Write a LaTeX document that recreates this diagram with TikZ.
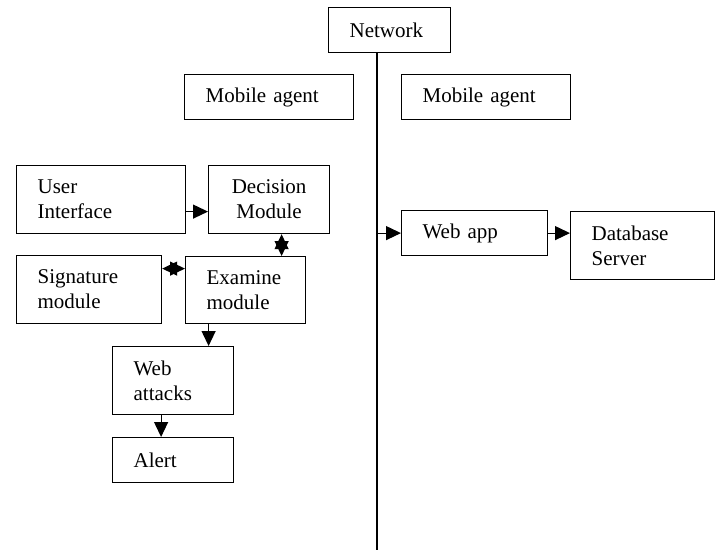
\documentclass[tikz,border=0pt]{standalone}
\usepackage{fontspec}
\setmainfont{Liberation Serif}
\usetikzlibrary{arrows.meta}

\begin{document}
\begin{tikzpicture}[x=1pt, y=-1pt, line width=1.2pt, >={Triangle[length=15pt, width=14pt]},
    box/.style={draw, anchor=north west, inner xsep=21pt, inner ysep=0pt, align=left,
        font=\fontsize{21}{25}\selectfont}]
    \useasboundingbox (0,0) rectangle (720,551);

    % Nodes
    \node[box, text width=80pt, minimum height=45pt] (net) at (328,7) {Network};
    \node[box, text width=127pt, minimum height=45pt] (magl) at (184,74) {Mobile agent};
    \node[box, text width=127pt, minimum height=45pt] (magr) at (401,74) {Mobile agent};
    \node[box, text width=127pt, minimum height=68pt] (ui) at (16,165) {User\\Interface};
    \node[box, text width=79pt, minimum height=68pt, align=center] (dec) at (208,165) {Decision\\Module};
    \node[box, text width=103pt, minimum height=68pt] (sig) at (16,255) {Signature\\module};
    \node[box, text width=78pt, minimum height=67pt] (exa) at (185,256) {Examine\\module};
    \node[box, text width=79pt, minimum height=68pt] (web) at (112,346) {Web\\attacks};
    \node[box, text width=79pt, minimum height=45pt] (alert) at (112,437) {Alert};
    \node[box, text width=104pt, minimum height=45pt] (app) at (401,210) {Web app};
    \node[box, text width=102pt, minimum height=68pt] (db) at (570,211) {Database\\Server};
    \coordinate (netend) at (377,550);

    % Network line
    \draw (net.south -| netend) -- (netend);

    % Directed edges
    \draw[->] ([yshift=-12pt]ui.east) -- ([yshift=-12pt]ui.east -| dec.west);
    \draw[<->] ([xshift=12.5pt]dec.south) -- ([xshift=12.5pt]dec.south |- exa.north);
    \draw[<->] ([yshift=21pt]sig.east) -- ([yshift=21pt]sig.east -| exa.west);
    \draw[->] ([xshift=-37pt]exa.south) -- ([xshift=-37pt]exa.south |- web.north);
    \draw[->] ([xshift=-12pt]web.south) -- ([xshift=-12pt]web.south |- alert.north);
    \draw[->] (app.west -| netend) -- (app.west);
    \draw[->] (app.east) -- (app.east -| db.west);
\end{tikzpicture}
\end{document}
